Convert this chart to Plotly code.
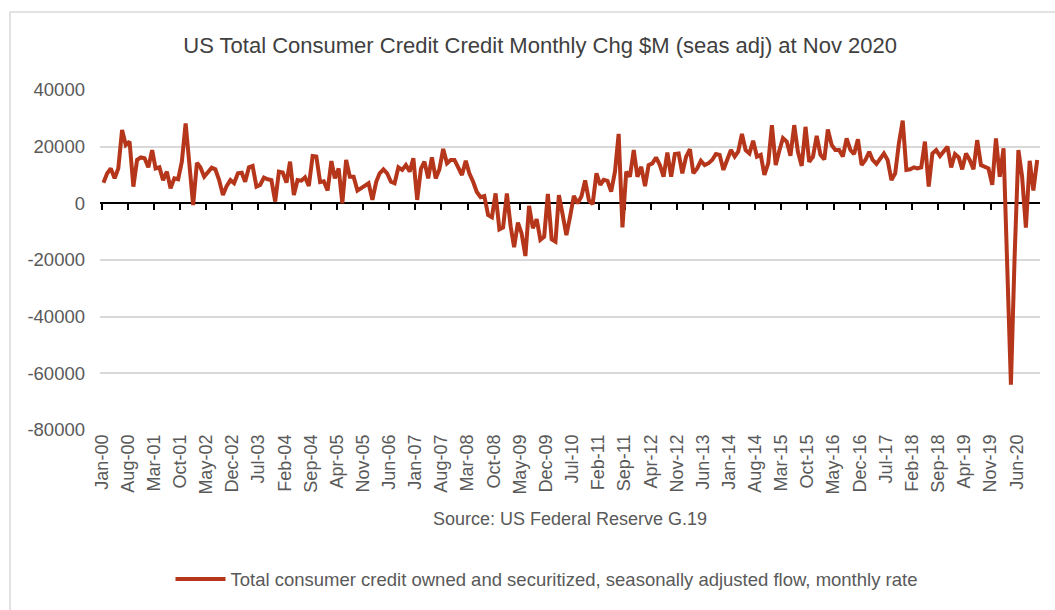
import plotly.graph_objects as go
import pandas as pd

# Monthly change in US total consumer credit ($M, seasonally adjusted), Jan-2000 .. Nov-2020
start_month = "2000-01"
values = [
    7300, 10600, 12300, 8800, 12300, 25900, 20600, 21800, 5900, 15300, 16200, 15900,   # 2000
    12700, 18800, 12300, 12700, 8200, 11200, 5300, 8800, 8500, 14700, 28200, 15300,    # 2001
    -600, 14300, 12700, 9400, 10800, 12600, 12000, 8200, 2900, 6100, 8200, 7100,       # 2002
    10600, 10800, 7600, 12700, 13200, 5900, 6500, 9100, 8500, 8200, 600, 11200,        # 2003
    10900, 7300, 14700, 2900, 8200, 8000, 9200, 6100, 16700, 16500, 7500, 7800,        # 2004
    4500, 14900, 8800, 12300, 0, 15300, 9400, 9400, 4500, 5300, 6500, 7100,            # 2005
    1200, 7600, 10600, 12000, 10600, 7600, 7100, 12700, 11800, 13500, 11200, 15900,    # 2006
    1200, 12300, 14700, 8800, 16200, 8800, 12000, 19200, 14100, 15300, 15300, 12300,   # 2007
    10000, 15000, 10600, 7600, 4000, 2200, 2600, -4100, -4900, 3500, -9200, -8500,     # 2008
    3500, -8200, -15500, -6800, -10600, -18600, -900, -8800, -5600, -12900, -11800, 3300,  # 2009
    -12700, -13500, 2900, -4100, -11200, -4500, 2600, 0, 2500, 8100, 1000, -300,       # 2010
    10600, 6500, 8300, 7900, 4100, 11200, 24500, -8500, 11200, 9400, 18800, 9400,      # 2011
    12900, 6100, 13500, 14100, 16200, 13500, 9400, 17900, 9400, 17400, 17600, 10600,   # 2012
    16500, 19100, 10600, 12300, 15000, 13500, 14100, 15300, 17400, 17100, 11800, 15300,  # 2013
    18800, 16500, 18200, 24500, 18800, 17600, 22100, 16500, 17100, 10000, 14100, 27600,  # 2014
    13500, 18800, 23000, 21800, 16800, 27600, 18200, 13200, 27000, 14700, 16500, 23800,  # 2015
    17100, 15500, 26100, 20600, 18800, 18800, 16500, 22900, 18800, 17400, 22600, 13500,  # 2016
    15300, 18200, 15300, 13900, 15900, 17600, 15300, 8200, 10600, 21200, 29200, 11800,   # 2017
    12000, 12700, 12300, 12700, 21800, 5900, 17600, 18800, 16700, 18200, 20000, 12700,   # 2018
    17400, 16200, 12000, 17600, 15300, 12000, 22300, 13500, 12700, 12300, 6500, 22900,   # 2019
    9400, 19400, -21000, -64000, -19000, 18800, 9500, -8600, 15000, 4500, 15300,         # 2020
]
# points sit mid-month (between the monthly tick marks)
dates = pd.date_range(start_month, periods=len(values), freq="MS") + pd.Timedelta(days=14)

series_name = "Total consumer credit owned and securitized, seasonally adjusted flow, monthly rate"
title_text = "US Total Consumer Credit Credit Monthly Chg $M (seas adj) at Nov 2020"
source_text = "Source: US Federal Reserve G.19"
y_ticks = [40000, 20000, 0, -20000, -40000, -60000, -80000]
y_tick_text = ["40000", "20000", "0", "-20000", "-40000", "-60000", "-80000"]

FONT = "Liberation Sans, Arial, sans-serif"
GREY = "#595959"
RED = "#B5361A"

fig = go.Figure()
fig.add_trace(go.Scatter(
    x=dates, y=values, mode="lines", name=series_name,
    line=dict(color=RED, width=4),
))
# helper (no visible marks) so the zero-level tick axis gets drawn
fig.add_trace(go.Scatter(
    x=[dates[0]], y=[None], xaxis="x2", mode="lines",
    showlegend=False, hoverinfo="skip",
))

x_range = ["1999-12-18", "2020-12-08"]
fig.update_layout(
    width=1055, height=610,
    margin=dict(l=100, r=15, t=90, b=180),
    paper_bgcolor="white", plot_bgcolor="white",
    font=dict(family=FONT, color=GREY, size=18),
    title=dict(text=title_text, x=0.512, xanchor="center", y=0.926, yanchor="middle",
               font=dict(size=22, color="#404040", family=FONT)),
    showlegend=True,
    legend=dict(orientation="h", x=0.475, xanchor="center", y=-0.44, yanchor="middle",
                font=dict(size=18.5, color=GREY), itemwidth=50),
    xaxis=dict(
        type="date", range=x_range,
        tick0="2000-01-01", dtick="M7", tickformat="%b-%y",
        tickangle=-90, showgrid=False, showline=False, ticks="",
        tickfont=dict(size=18, color=GREY), zeroline=False,
    ),
    xaxis2=dict(
        type="date", range=x_range, matches="x", overlaying="x",
        anchor="free", position=2/3,
        tick0="2000-01-01", dtick="M7",
        showticklabels=False, showgrid=False,
        showline=True, linecolor="black", linewidth=1.5,
        ticks="outside", ticklen=6, tickwidth=1.5, tickcolor="black",
        layer="below traces", zeroline=False,
    ),
    yaxis=dict(
        range=[-80000, 40000], tickvals=y_ticks, ticktext=y_tick_text,
        showgrid=True, gridcolor="#D9D9D9", gridwidth=1.5,
        zeroline=False, showline=False, ticks="", ticklabelstandoff=14,
        tickfont=dict(size=18.5, color=GREY),
    ),
    annotations=[dict(
        text=source_text, xref="paper", yref="paper", x=0.5, y=-0.262,
        xanchor="center", yanchor="middle", showarrow=False,
        font=dict(size=18, color=GREY),
    )],
    shapes=[dict(
        type="rect", xref="paper", yref="paper",
        x0=(10 - 100) / 940, x1=(1070 - 100) / 940,
        y0=(430 - 640) / 340, y1=(430 - 12) / 340,
        line=dict(color="#D9D9D9", width=1.5), fillcolor="rgba(0,0,0,0)", layer="below",
    )],
)
fig.write_html("out.html")
